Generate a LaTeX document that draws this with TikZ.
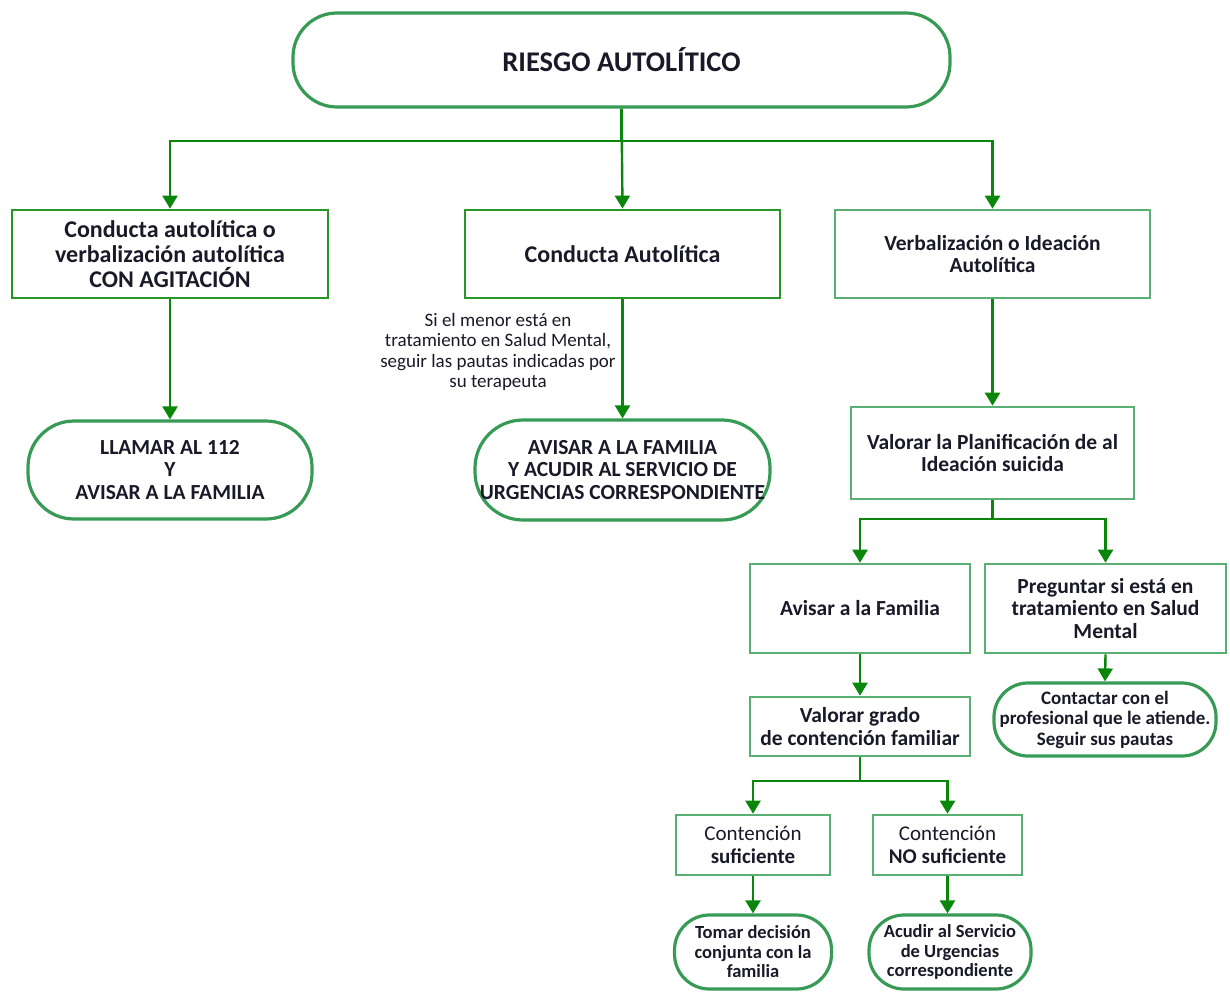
\documentclass[tikz,border=0pt]{standalone}
\usepackage{fontspec}
\setmainfont{Carlito}
\usetikzlibrary{arrows.meta,positioning}
\definecolor{arrowgreen}{RGB}{10,135,10}
\definecolor{boxdark}{RGB}{40,150,40}
\definecolor{boxlight}{RGB}{90,175,115}
\definecolor{stadgreen}{RGB}{55,155,85}
\definecolor{txt}{RGB}{25,25,40}
\tikzset{
  arr/.style={draw=arrowgreen, line width=2.4pt, -{Triangle[width=15pt,length=13pt]}},
  ln/.style={draw=arrowgreen, line width=2.4pt},
  darkbox/.style={draw=boxdark, line width=2.8pt, rectangle, align=center, text=txt, inner sep=2pt},
  lightbox/.style={draw=boxlight, line width=2.6pt, rectangle, align=center, text=txt, inner sep=2pt},
  stad/.style={draw=stadgreen, line width=3.2pt, rectangle, align=center, text=txt, inner sep=1pt},
  fA/.style={font=\fontsize{28.5}{27}\selectfont\bfseries},
  fB/.style={font=\fontsize{24}{25}\selectfont\bfseries},
  fC/.style={font=\fontsize{21.5}{22.5}\selectfont\bfseries},
  fD/.style={font=\fontsize{21}{23}\selectfont\bfseries},
  fE/.style={font=\fontsize{19}{20.5}\selectfont\bfseries},
  fN/.style={font=\fontsize{19}{20.5}\selectfont},
  fS/.style={font=\fontsize{18.5}{19.5}\selectfont\bfseries},
}
\begin{document}
\begin{tikzpicture}[x=1pt,y=-1pt]
\useasboundingbox (0,0) rectangle (1230,992);

% top
\node[stad, fA, minimum width=657pt, minimum height=94pt, rounded corners=44pt] (top) at (621.5,60) {RIESGO AUTOLÍTICO};

% first row
\node[darkbox, fB, minimum width=316pt, minimum height=88pt] (b1) at (170,254)
  {Conducta autolítica o\\verbalización autolítica\\CON AGITACIÓN};
\node[darkbox, fB, minimum width=315pt, minimum height=88pt] (b2) at (622.5,254)
  {Conducta Autolítica};
\node[lightbox, fC, minimum width=315pt, minimum height=88pt] (b3) at (992.5,254)
  {Verbalización o Ideación\\Autolítica};

% second row
\node[stad, fC, minimum width=284pt, minimum height=98pt, rounded corners=46pt] (llamar) at (170,470)
  {LLAMAR AL 112\\Y\\AVISAR A LA FAMILIA};
\node[stad, fC, minimum width=295pt, minimum height=100pt, rounded corners=48pt, inner sep=0pt] (avisar) at (622.5,470)
  {AVISAR A LA FAMILIA\\Y ACUDIR AL SERVICIO DE\\URGENCIAS CORRESPONDIENTE};
\node[fN, text=txt, align=center] (note) at (498,352)
  {Si el menor está en\\tratamiento en Salud Mental,\\seguir las pautas indicadas por\\su terapeuta};
\node[lightbox, fC, minimum width=283pt, minimum height=92pt] (plan) at (992.5,453)
  {Valorar la Planificación de al\\Ideación suicida};

% third row
\node[lightbox, fC, minimum width=220pt, minimum height=89pt] (fam) at (860,608.5)
  {Avisar a la Familia};
\node[lightbox, fC, minimum width=241pt, minimum height=89pt] (preg) at (1105.5,608.5)
  {Preguntar si está en\\tratamiento en Salud\\Mental};
\node[lightbox, fC, minimum width=220pt, minimum height=59pt] (grado) at (860,726.5)
  {Valorar grado\\de contención familiar};
\node[stad, fE, minimum width=222pt, minimum height=73pt, rounded corners=34pt, inner sep=0pt] (contactar) at (1105,719.5)
  {Contactar con el\\profesional que le atiende.\\Seguir sus pautas};

% fourth row
\node[lightbox, fD, minimum width=154pt, minimum height=60pt] (c1) at (753,845)
  {\mdseries Contención\\suficiente};
\node[lightbox, fD, minimum width=149pt, minimum height=60pt] (c2) at (947.5,845)
  {\mdseries Contención\\NO suficiente};
\node[stad, fS, minimum width=157pt, minimum height=74pt, rounded corners=35pt, inner sep=0pt] (tomar) at (753,952)
  {Tomar decisión\\conjunta con la\\familia};
\node[stad, fS, minimum width=162pt, minimum height=74pt, rounded corners=35pt, inner sep=0pt] (acudir) at (950,952)
  {Acudir al Servicio\\de Urgencias\\correspondiente};

% connectors
\coordinate (j1) at (621.5,141);
\draw[ln] (top.south) -- (j1);
\draw[arr] (j1) -| (b1.north);
\draw[arr] (j1) -| (b3.north);
\draw[arr] (top.south) -- (b2.north);
\draw[arr] (b1.south) -- (llamar.north);
\draw[arr] (b2.south) -- (avisar.north);
\draw[arr] (b3.south) -- (plan.north);

\coordinate (j2) at (992.5,519);
\draw[ln] (plan.south) -- (j2);
\draw[arr] (j2) -| (fam.north);
\draw[arr] (j2) -| (preg.north);
\draw[arr] (fam.south) -- (grado.north);
\draw[arr] (preg.south) -- (contactar.north);

\coordinate (j3) at (860,781);
\draw[ln] (grado.south) -- (j3);
\draw[arr] (j3) -| (c1.north);
\draw[arr] (j3) -| (c2.north);
\draw[arr] (c1.south) -- (c1.south |- tomar.north);
\draw[arr] (c2.south) -- (c2.south |- acudir.north);
\end{tikzpicture}
\end{document}
